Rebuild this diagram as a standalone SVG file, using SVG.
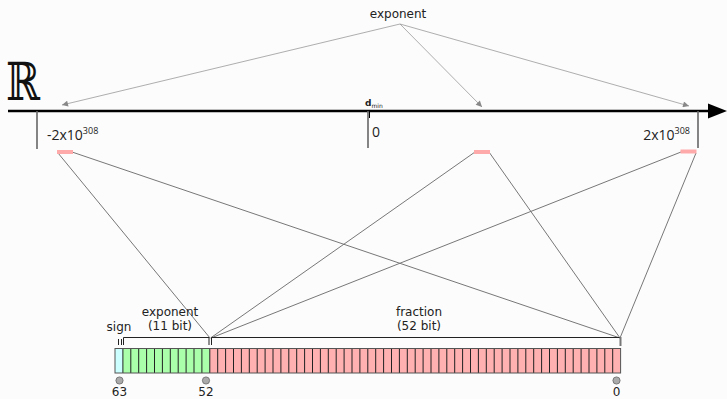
<svg xmlns="http://www.w3.org/2000/svg" width="727" height="399" viewBox="0 0 727 399">
<style>
.lbl{font-family:"DejaVu Sans",sans-serif;font-size:12px;fill:#222}
.num{font-family:"Open Sans",sans-serif;font-size:14px;fill:#222}
.sup{font-size:9px}
.exp{stroke:#999;stroke-width:0.8;fill:none}
.map{stroke:#777;stroke-width:1;fill:none}
.tick{stroke:#666;stroke-width:1.6}
.bar{fill:#ffaaaa}
.brk{stroke:#222;stroke-width:1;fill:none}
.dot{fill:#aaa;stroke:#666;stroke-width:0.8}
</style>
<defs>
<marker id="ga" viewBox="0 0 10 10" refX="10" refY="5" markerWidth="8" markerHeight="6" orient="auto" markerUnits="userSpaceOnUse">
<path d="M0,0 L10,5 L0,10 z" fill="#888"/>
</marker>
</defs>
<rect width="727" height="399" fill="#fcfcfc"/>
<g id="axis">
<line x1="8" y1="111" x2="716" y2="111" stroke="#000" stroke-width="2.5"/>
<path d="M727,111 L708,103.5 L708,118.5 z" fill="#000"/>
<text transform="translate(6,100) scale(0.82,1.05)" x="0" y="0" font-family="DejaVu Serif,serif" font-size="50" fill="#111">ℝ</text>
</g>
<g id="ticks">
<line class="tick" x1="37" y1="111" x2="37" y2="149"/>
<line class="tick" x1="368" y1="111" x2="368" y2="148"/>
<line class="tick" x1="698" y1="111" x2="698" y2="148"/>
<line x1="369.5" y1="111" x2="369.5" y2="118" stroke="#000" stroke-width="1"/>
</g>
<g id="axis-labels">
<text class="num" x="47" y="140">-2x10<tspan class="sup" dy="-6">308</tspan></text>
<text class="num" x="372" y="137">0</text>
<text class="num" x="690" y="140" text-anchor="end">2x10<tspan class="sup" dy="-6">308</tspan></text>
<text x="365" y="106" font-family="DejaVu Sans,sans-serif" font-size="9" font-weight="bold" fill="#222">d<tspan font-size="6" font-weight="normal" dy="1.5">min</tspan></text>
</g>
<g id="exponent-top">
<text class="lbl" x="398" y="18" text-anchor="middle" font-size="12.5">exponent</text>
</g>
<g id="connectors">
<line class="exp" x1="400" y1="24" x2="62" y2="105" marker-end="url(#ga)"/>
<line class="exp" x1="400" y1="24" x2="482" y2="107" marker-end="url(#ga)"/>
<line class="exp" x1="400" y1="24" x2="689" y2="106" marker-end="url(#ga)"/>
<line class="map" x1="58" y1="153" x2="210" y2="338"/>
<line class="map" x1="72" y1="152" x2="620" y2="338"/>
<line class="map" x1="475" y1="152" x2="210.5" y2="338"/>
<line class="map" x1="489" y1="152" x2="620" y2="338"/>
<line class="map" x1="681" y1="152" x2="211" y2="338"/>
<line class="map" x1="696" y1="153" x2="620" y2="338"/>
</g>
<g id="bars">
<rect class="bar" x="57" y="150" width="16" height="4"/>
<rect class="bar" x="474" y="150" width="16" height="4"/>
<rect class="bar" x="680.5" y="149.5" width="16" height="4"/>
</g>
<g id="bit-labels">
<text class="lbl" x="119" y="331" text-anchor="middle">sign</text>
<text class="lbl" x="170" y="316" text-anchor="middle">exponent</text>
<text class="lbl" x="170" y="330" text-anchor="middle">(11 bit)</text>
<text class="lbl" x="419" y="316" text-anchor="middle">fraction</text>
<text class="lbl" x="419" y="330" text-anchor="middle">(52 bit)</text>
</g>
<g id="brackets">
<path class="brk" d="M118.5,339 V345 M121.5,339 V345"/>
<path class="brk" d="M123.5,345 V337.5 H209 V345"/>
<path class="brk" d="M211.5,345 V337.5 H620"/>
<line x1="620.5" y1="337" x2="620.5" y2="346" stroke="#777" stroke-width="2"/>
</g>
<g id="bits">
<rect x="115" y="348.5" width="7.9" height="24.5" fill="#ccffff"/>
<rect x="122.9" y="348.5" width="86.9" height="24.5" fill="#aaffaa"/>
<rect x="209.8" y="348.5" width="410.8" height="24.5" fill="#ffb0b0"/>
<path stroke="#222" stroke-width="1" fill="none" d="M122.9,348.5V373M130.8,348.5V373M138.7,348.5V373M146.6,348.5V373M154.5,348.5V373M162.4,348.5V373M170.3,348.5V373M178.2,348.5V373M186.1,348.5V373M194,348.5V373M201.9,348.5V373M209.8,348.5V373M217.7,348.5V373M225.6,348.5V373M233.5,348.5V373M241.4,348.5V373M249.3,348.5V373M257.2,348.5V373M265.1,348.5V373M273,348.5V373M280.9,348.5V373M288.8,348.5V373M296.7,348.5V373M304.6,348.5V373M312.5,348.5V373M320.4,348.5V373M328.3,348.5V373M336.2,348.5V373M344.1,348.5V373M352,348.5V373M359.9,348.5V373M367.8,348.5V373M375.7,348.5V373M383.6,348.5V373M391.5,348.5V373M399.4,348.5V373M407.3,348.5V373M415.2,348.5V373M423.1,348.5V373M431,348.5V373M438.9,348.5V373M446.8,348.5V373M454.7,348.5V373M462.6,348.5V373M470.5,348.5V373M478.4,348.5V373M486.3,348.5V373M494.2,348.5V373M502.1,348.5V373M510,348.5V373M517.9,348.5V373M525.8,348.5V373M533.7,348.5V373M541.6,348.5V373M549.5,348.5V373M557.4,348.5V373M565.3,348.5V373M573.2,348.5V373M581.1,348.5V373M589,348.5V373M596.9,348.5V373M604.8,348.5V373M612.7,348.5V373"/>
<rect x="115" y="348.5" width="505.6" height="24.5" fill="none" stroke="#555" stroke-width="1"/>
</g>
<g id="bit-indices">
<circle class="dot" cx="119.5" cy="380.5" r="3.6"/>
<circle class="dot" cx="206" cy="380.5" r="3.6"/>
<circle class="dot" cx="616.5" cy="380.5" r="3.6"/>
<text class="lbl" x="119.5" y="396" text-anchor="middle" font-size="12.5">63</text>
<text class="lbl" x="206" y="396" text-anchor="middle" font-size="12.5">52</text>
<text class="lbl" x="616.5" y="396" text-anchor="middle" font-size="12.5">0</text>
</g>
</svg>
